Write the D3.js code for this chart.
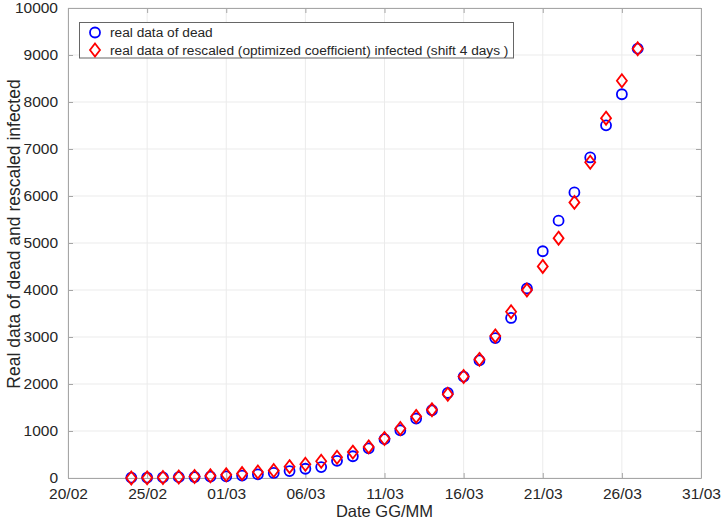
<!DOCTYPE html>
<html>
<head>
<meta charset="utf-8">
<script src="https://cdn.jsdelivr.net/npm/d3@7"></script>
<style>
  html, body { margin: 0; padding: 0; background: #fff; }
  svg { display: block; font-family: "Liberation Sans", Arial, sans-serif; }
</style>
</head>
<body>
<svg id="chart" width="722" height="523"></svg>
<script>
// ---- data ----
const dates = ["2020-02-24","2020-02-25","2020-02-26","2020-02-27","2020-02-28","2020-02-29",
  "2020-03-01","2020-03-02","2020-03-03","2020-03-04","2020-03-05","2020-03-06","2020-03-07",
  "2020-03-08","2020-03-09","2020-03-10","2020-03-11","2020-03-12","2020-03-13","2020-03-14",
  "2020-03-15","2020-03-16","2020-03-17","2020-03-18","2020-03-19","2020-03-20","2020-03-21",
  "2020-03-22","2020-03-23","2020-03-24","2020-03-25","2020-03-26","2020-03-27"];
const dead = [7,10,12,17,21,29,34,52,79,107,148,197,233,366,463,631,827,1016,1266,1441,1809,
  2158,2503,2978,3405,4032,4825,5476,6077,6820,7503,8165,9134];
const rescaledInfected = [0,3,11,22,33,46,67,94,127,161,242,291,357,441,551,662,841,1054,1311,1450,
  1781,2160,2524,3023,3536,3998,4502,5103,5864,6719,7656,8451,9134];
const xTickDates = ["2020-02-20","2020-02-25","2020-03-01","2020-03-06","2020-03-11","2020-03-16",
  "2020-03-21","2020-03-26","2020-03-31"];
const yTicks = [0,1000,2000,3000,4000,5000,6000,7000,8000,9000,10000];
const legendLabels = ["real data of dead",
  "real data of rescaled (optimized coefficient) infected (shift 4 days )"];
const xLabel = "Date GG/MM";
const yLabel = "Real data of dead and rescaled infected";

// ---- layout ----
const svg = d3.select("#chart");
const L = 68, R = 701, T = 8, B = 478;
const parse = d3.utcParse("%Y-%m-%d");
const xT = xTickDates.map(parse);
const x = d3.scaleUtc().domain([xT[0], xT[xT.length - 1]]).range([L, R]);
const y = d3.scaleLinear().domain([0, 10000]).range([B, T]);
const textColor = "#262626";
const axisColor = "#a6a6a6";
const gridColor = "#ebebeb";
const FONT = '"Liberation Sans", Arial, sans-serif';

// grid
const g = svg.append("g");
g.selectAll(".gx").data(xT).enter().append("line")
  .attr("x1", d => x(d)).attr("x2", d => x(d)).attr("y1", T).attr("y2", B)
  .attr("stroke", gridColor).attr("stroke-width", 1);
g.selectAll(".gy").data(yTicks).enter().append("line")
  .attr("y1", d => y(d)).attr("y2", d => y(d)).attr("x1", L).attr("x2", R)
  .attr("stroke", gridColor).attr("stroke-width", 1);

// axes (inward ticks)
const fmt = d3.utcFormat("%d/%m");
const xAxis = d3.axisBottom(x).tickValues(xT).tickFormat(fmt).tickSizeInner(-5).tickSizeOuter(0).tickPadding(10);
const xTop = d3.axisTop(x).tickValues(xT).tickFormat("").tickSizeInner(-5).tickSizeOuter(0);
const yAxis = d3.axisLeft(y).tickValues(yTicks).tickFormat(d3.format("d")).tickSizeInner(-5).tickSizeOuter(0).tickPadding(10);
const yRight = d3.axisRight(y).tickValues(yTicks).tickFormat("").tickSizeInner(-5).tickSizeOuter(0);

function style(sel) {
  sel.selectAll("path").attr("stroke", axisColor).attr("stroke-width", 1);
  sel.selectAll("line").attr("stroke", axisColor).attr("stroke-width", 1);
  sel.selectAll("text").attr("fill", textColor).style("font-size", "15.5px").style("font-family", FONT);
}
svg.append("g").attr("transform", `translate(0,${B})`).call(xAxis).call(style);
svg.append("g").attr("transform", `translate(0,${T})`).call(xTop).call(style);
svg.append("g").attr("transform", `translate(${L},0)`).call(yAxis).call(style);
svg.append("g").attr("transform", `translate(${R},0)`).call(yRight).call(style);

// labels
svg.append("text").attr("x", (L + R) / 2).attr("y", 517).attr("text-anchor", "middle")
  .attr("fill", textColor).style("font-size", "16.5px").style("font-family", FONT).text(xLabel);
svg.append("text").attr("transform", `translate(14,234) rotate(-90)`).attr("dy", "0.35em")
  .attr("text-anchor", "middle").attr("fill", textColor).style("font-size", "17.5px")
  .style("font-family", FONT).text(yLabel);

// markers
const pts = dates.map((d, i) => ({ date: parse(d), dead: dead[i], inf: rescaledInfected[i] }));
const diamond = (cx, cy) => `M${cx},${cy - 6.5}L${cx + 5},${cy}L${cx},${cy + 6.5}L${cx - 5},${cy}Z`;
svg.append("g").selectAll("circle").data(pts).enter().append("circle")
  .attr("cx", d => x(d.date)).attr("cy", d => y(d.dead)).attr("r", 5)
  .attr("fill", "none").attr("stroke", "#0000ff").attr("stroke-width", 1.8);
svg.append("g").selectAll("path").data(pts).enter().append("path")
  .attr("d", d => diamond(x(d.date), y(d.inf)))
  .attr("fill", "none").attr("stroke", "#ff0000").attr("stroke-width", 1.8);

// legend
const lg = svg.append("g");
lg.append("rect").attr("x", 79.5).attr("y", 22.5).attr("width", 434).attr("height", 35.5)
  .attr("fill", "#fff").attr("stroke", "#666").attr("stroke-width", 1);
lg.append("circle").attr("cx", 95).attr("cy", 32.5).attr("r", 5)
  .attr("fill", "none").attr("stroke", "#0000ff").attr("stroke-width", 1.8);
lg.append("path").attr("d", diamond(95, 50))
  .attr("fill", "none").attr("stroke", "#ff0000").attr("stroke-width", 1.8);
lg.selectAll("text").data(legendLabels).enter().append("text")
  .attr("x", 110).attr("y", (d, i) => 32.5 + i * 17.5).attr("dy", "0.35em")
  .attr("fill", textColor).style("font-size", "13.7px").style("font-family", FONT).text(d => d);
</script>
</body>
</html>
